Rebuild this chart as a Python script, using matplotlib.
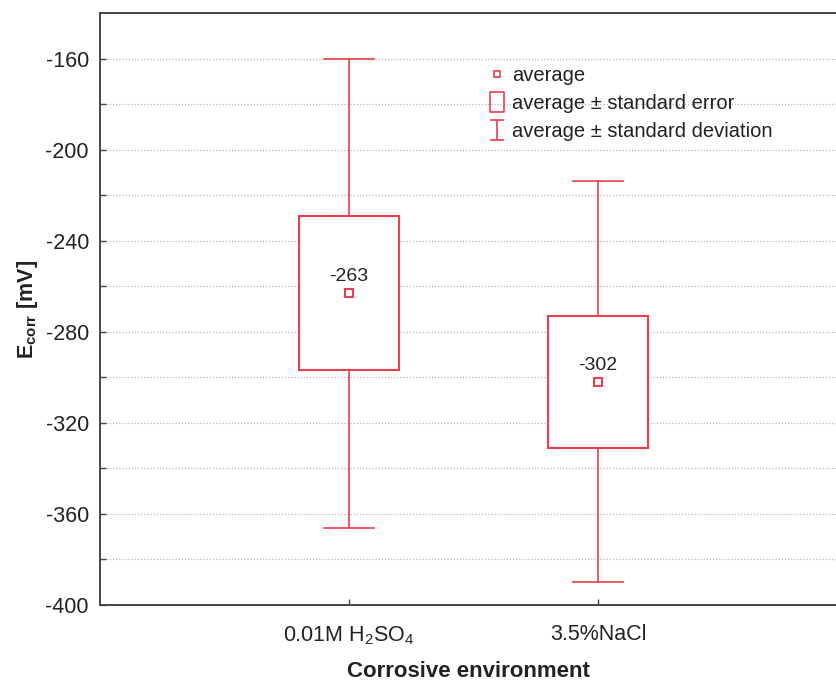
import matplotlib
matplotlib.use("Agg")
import matplotlib.pyplot as plt
from matplotlib.lines import Line2D
from matplotlib.patches import Rectangle
from matplotlib.path import Path
import numpy as np

categories = ["0.01M H$_\\mathregular{2}$SO$_\\mathregular{4}$", "3.5%NaCl"]
means = [-263, -302]
std_err = [34, 29]
std_dev = [103, 88]
yticks_major = [-400, -360, -320, -280, -240, -200, -160]

RED = "#e8404c"
plt.rcParams['font.family'] = ['Liberation Sans', 'DejaVu Sans']
plt.rcParams['mathtext.fontset'] = 'custom'
plt.rcParams['mathtext.rm'] = 'Liberation Sans'
plt.rcParams['mathtext.bf'] = 'Liberation Sans:bold'
plt.rcParams['axes.unicode_minus'] = False

fig = plt.figure(figsize=(8.36, 6.81), dpi=100)
ax = fig.add_axes([100/836, 76/681, 1 - 100/836, (605-13)/681])

pos = np.arange(1, len(categories) + 1)
box_w = 0.4
cap_w = 0.2
for x, m, se, sd in zip(pos, means, std_err, std_dev):
    ax.plot([x, x], [m + se, m + sd], color=RED, lw=1.2, zorder=3)
    ax.plot([x, x], [m - sd, m - se], color=RED, lw=1.2, zorder=3)
    ax.plot([x - cap_w/2, x + cap_w/2], [m + sd, m + sd], color=RED, lw=1.2, zorder=3)
    ax.plot([x - cap_w/2, x + cap_w/2], [m - sd, m - sd], color=RED, lw=1.2, zorder=3)
    ax.add_patch(Rectangle((x - box_w/2, m - se), box_w, 2*se, facecolor='white',
                           edgecolor=RED, lw=1.5, zorder=3))
    ax.plot([x], [m], marker='s', ms=5.5, mfc='white', mec=RED, mew=1.5, ls='none', zorder=4)
    ax.annotate(f"{m}", (x, m), xytext=(0, 6), textcoords='offset points',
                ha='center', va='bottom', fontsize=14, color='#222222', zorder=5)

ax.set_xlim(0, (836-100)/249)
ax.set_ylim(-400, -140)
ax.set_xticks(pos)
ax.set_xticklabels(categories)
ax.set_yticks(yticks_major)
ax.set_yticks(np.arange(-380, -140, 20), minor=True)
ax.tick_params(axis='both', which='both', direction='in', length=4, width=1, color='#444444',
               labelsize=15.5, labelcolor='#222222')
ax.tick_params(axis='x', pad=14)
ax.tick_params(axis='y', pad=8)
ax.grid(True, which='both', axis='y', ls=(0, (1, 1.5)), color='#b8b8b8', lw=0.9, zorder=0)
ax.set_axisbelow(True)
for s in ['left', 'bottom', 'top']:
    ax.spines[s].set_color('#444444')
    ax.spines[s].set_linewidth(1.4)
ax.spines['right'].set_visible(False)

ax.set_xlabel("Corrosive environment", fontsize=16, fontweight='bold', labelpad=10,
              color='#222222')
ax.set_ylabel("E$_\\mathbf{corr}$ [mV]", fontsize=15.5, fontweight='bold', labelpad=4,
              color='#222222')

# legend handles
rect_path = Path([(-0.35, -0.5), (0.35, -0.5), (0.35, 0.5), (-0.35, 0.5), (-0.35, -0.5)],
                 [Path.MOVETO, Path.LINETO, Path.LINETO, Path.LINETO, Path.CLOSEPOLY])
ibar_path = Path([(-0.35, -0.5), (0.35, -0.5), (0, -0.5), (0, 0.5), (-0.35, 0.5), (0.35, 0.5)],
                 [Path.MOVETO, Path.LINETO, Path.MOVETO, Path.LINETO, Path.MOVETO, Path.LINETO])
handles = [
    Line2D([], [], marker='s', ms=4, mfc='white', mec=RED, mew=1.2, ls='none'),
    Line2D([], [], marker=rect_path, ms=15, mfc='none', mec=RED, mew=1.2, ls='none'),
    Line2D([], [], marker=ibar_path, ms=14, mfc='none', mec=RED, mew=1.2, ls='none'),
]
labels = ["average", "average \u00b1 standard error", "average \u00b1 standard deviation"]
leg = ax.legend(handles, labels, loc='upper left',
                bbox_to_anchor=(479/836, (681-56)/681), bbox_transform=fig.transFigure,
                frameon=False, fontsize=14.5, handlelength=0.8, handletextpad=0.35,
                labelspacing=0.45, borderpad=0)
for t in leg.get_texts():
    t.set_color('#222222')

fig.savefig("out.png", dpi=100)
